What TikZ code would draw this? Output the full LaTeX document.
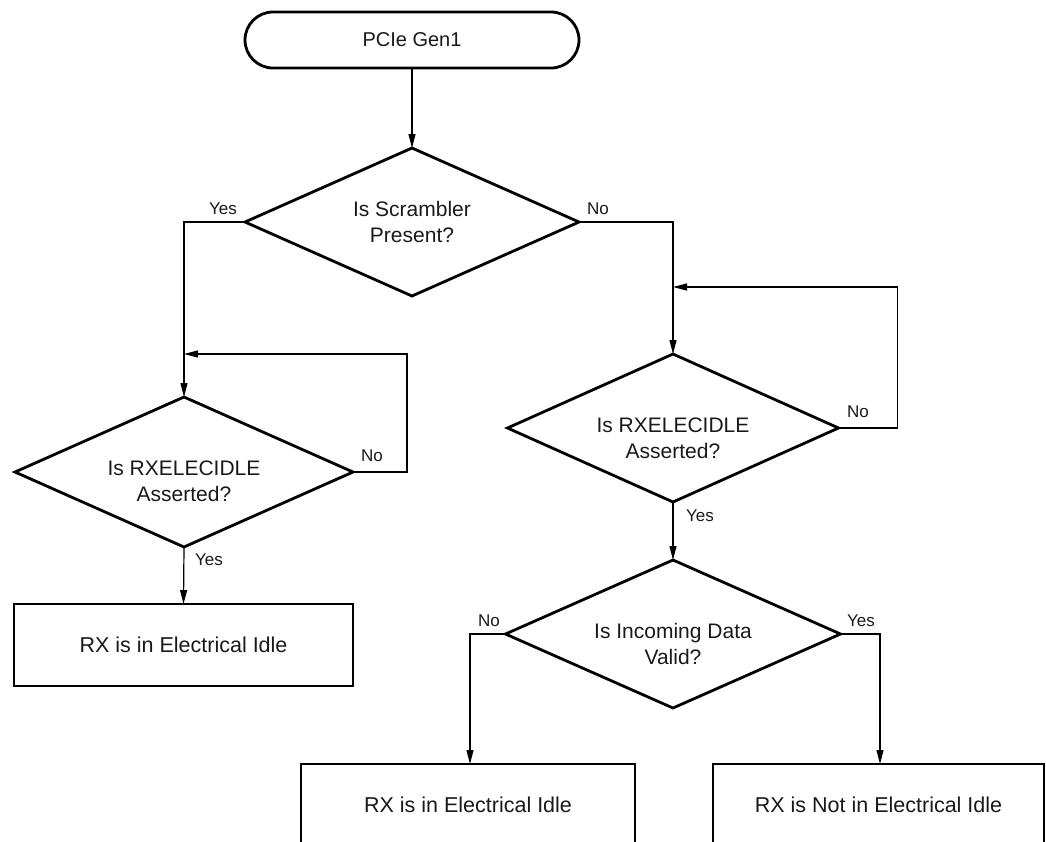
\documentclass[tikz,border=0pt]{standalone}
\usepackage{fontspec}
\setmainfont{Liberation Sans}
\usetikzlibrary{shapes.geometric,arrows.meta}
\begin{document}
\begin{tikzpicture}[x=1pt,y=-1pt,
  every node/.style={inner sep=0pt, outer sep=0pt, text=black!90},
  shapeline/.style={draw=black, line width=2.8pt},
  term/.style={shapeline, rectangle, rounded corners=28pt, minimum width=334pt, minimum height=56pt, font=\fontsize{20}{24}\selectfont},
  decision/.style={shapeline, diamond, shape aspect=2.25, minimum width=334pt, minimum height=148pt},
  qtext/.style={align=center, font=\fontsize{21}{26}\selectfont},
  process/.style={shapeline, rectangle, minimum width=334pt, minimum height=82pt, font=\fontsize{21.5}{24}\selectfont},
  conn/.style={line width=1.2pt, -{Triangle[length=14pt,width=7pt]}},
  tag/.style={font=\fontsize{17}{20}\selectfont}
]
\useasboundingbox (0,0) rectangle (1046,841);
\clip (0,0) rectangle (1046,841);

% start terminal
\node[term] (start) at (412,40) {PCIe Gen1};

% decisions
\node[decision] (d1) at (412,222) {};
\node[qtext] (t1) at (412,222) {Is Scrambler\\Present?};

\node[decision, minimum width=338pt, minimum height=150pt] (d2) at (184,472) {};
\node[qtext] (t2) at (184,481) {Is RXELECIDLE\\Asserted?};

\node[decision, minimum width=331pt] (d3) at (673,428) {};
\node[qtext] (t3) at (673,438) {Is RXELECIDLE\\Asserted?};

\node[decision, minimum width=335pt] (d4) at (673,634) {};
\node[qtext] (t4) at (673,644) {Is Incoming Data\\Valid?};

% outcome boxes
\node[process, minimum width=339pt] (b1) at (183.5,645) {RX is in Electrical Idle};
\node[process] (b2) at (468,805) {RX is in Electrical Idle};
\node[process, minimum width=331pt] (b3) at (878.5,805) {RX is Not in Electrical Idle};

% loop junctions on the incoming lines
\coordinate (j1) at (184,354);
\coordinate (j2) at (673,287);

% connectors
\draw[conn] (start.south) -- (d1.north);
\draw[conn] (d1.west) -| (d2.north);
\draw[conn] (d1.east) -| (d3.north);
\draw[conn] (d2.east) -- ++(54,0) |- (j1);
\draw[conn] (d3.east) -- ++(59,0) |- (j2);
\draw[conn] (d2.south) -- (b1.north);
\draw[conn] (d3.south) -- (d4.north);
\draw[conn] (d4.west) -| ([xshift=2pt]b2.north);
\draw[conn] (d4.east) -| ([xshift=1.5pt]b3.north);

% branch labels
\node[tag] (y1) at (223,209) {Yes};
\node[tag] (n1) at (598,209) {No};
\node[tag] (n2) at (372,456) {No};
\node[tag] (y2) at (209,560) {Yes};
\node[tag] (n3) at (858,412) {No};
\node[tag] (y3) at (700,516) {Yes};
\node[tag] (n4) at (489,621) {No};
\node[tag] (y4) at (861,621) {Yes};
\end{tikzpicture}
\end{document}
